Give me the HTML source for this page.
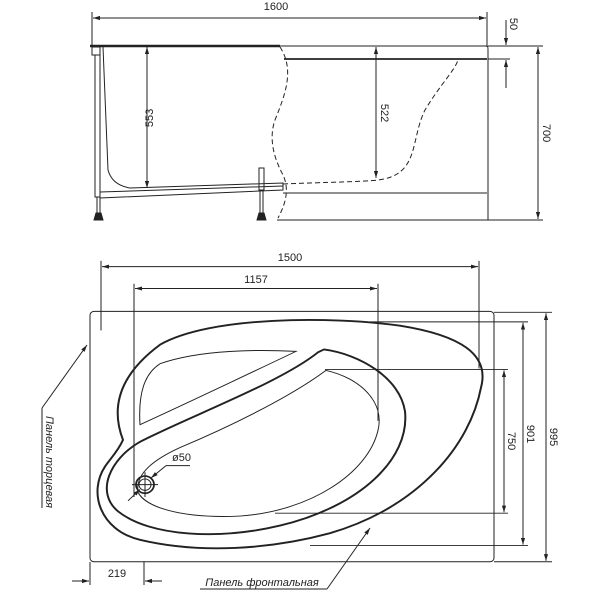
<!DOCTYPE html>
<html><head><meta charset="utf-8"><style>
html,body{margin:0;padding:0;background:#fff;}
svg{display:block;}
text{font-family:"Liberation Sans Narrow","Liberation Sans",sans-serif;font-size:11px;fill:#222;}
</style></head><body>
<svg width="600" height="600" viewBox="0 0 600 600" xmlns="http://www.w3.org/2000/svg">
<defs>
<marker id="a" viewBox="0 0 10 10" refX="10" refY="5" markerWidth="7" markerHeight="7" orient="auto-start-reverse"><path d="M0,2 L10,5 L0,8 z" fill="#222"/></marker>
</defs>
<g stroke="#222" fill="none" stroke-width="1">
<!-- TOP VIEW -->
<line x1="92" y1="12" x2="92" y2="47"/><line x1="487" y1="12" x2="487" y2="47"/>
<line x1="93" y1="18" x2="486" y2="18" marker-start="url(#a)" marker-end="url(#a)"/>
<line x1="90" y1="46" x2="280" y2="46" stroke-width="2.5"/>
<line x1="280" y1="46" x2="487" y2="46"/>
<line x1="284" y1="59" x2="487" y2="59" stroke-width="1.8"/>
<path d="M487,46 Q488,46 488,50 L488,220"/>
<line x1="283" y1="193" x2="487" y2="193"/>
<line x1="277" y1="220" x2="543" y2="220"/>
<line x1="488" y1="46" x2="543" y2="46"/>
<line x1="488" y1="59" x2="510" y2="59"/>
<line x1="506" y1="20" x2="506" y2="45" marker-end="url(#a)"/>
<line x1="506" y1="88" x2="506" y2="60" marker-end="url(#a)"/>
<line x1="538" y1="47" x2="538" y2="219" marker-start="url(#a)" marker-end="url(#a)"/>
<line x1="147" y1="47" x2="147" y2="188" marker-start="url(#a)" marker-end="url(#a)"/>
<line x1="376" y1="47" x2="376" y2="178" marker-start="url(#a)" marker-end="url(#a)"/>
<path d="M280,47 C295,70 285,95 275,120 C268,140 275,160 283,175 C290,190 285,205 278,218" stroke-dasharray="5,3"/>
<path d="M283,184 C330,182 360,182 378,180 C420,175 410,140 425,110 C440,85 455,70 458,60" stroke-dasharray="5,3"/>
<rect x="92" y="47" width="8" height="8"/>
<rect x="95" y="55" width="5" height="142"/>
<path d="M103,47 L108,170 Q112,185 130,188 L283,183 L283,190 L100,198"/>
<line x1="100" y1="192" x2="283" y2="186"/>
<rect x="259" y="168" width="5" height="22"/>
<line x1="97" y1="197" x2="97" y2="213"/><line x1="100" y1="197" x2="100" y2="213"/>
<path d="M94,220 L96,213 L101,213 L103,220 z" fill="#222"/>
<line x1="260" y1="190" x2="260" y2="213"/><line x1="263" y1="190" x2="263" y2="213"/>
<path d="M257,220 L259,213 L264,213 L266,220 z" fill="#222"/>

<!-- BOTTOM VIEW (vertically compressed) -->
<g transform="matrix(1,0,0,0.952,0,11.5)">
<rect x="90" y="315" width="404" height="263" rx="4"/>
<line x1="101" y1="262" x2="101" y2="335"/><line x1="479" y1="262" x2="479" y2="375"/>
<line x1="102" y1="268" x2="478" y2="268" marker-start="url(#a)" marker-end="url(#a)"/>
<line x1="134" y1="286" x2="134" y2="510"/><line x1="378" y1="286" x2="378" y2="430"/>
<line x1="135" y1="291" x2="377" y2="291" marker-start="url(#a)" marker-end="url(#a)"/>
<line x1="494" y1="316" x2="552" y2="316"/><line x1="494" y1="578" x2="552" y2="578"/>
<line x1="546" y1="317" x2="546" y2="577" marker-start="url(#a)" marker-end="url(#a)"/>
<line x1="370" y1="326" x2="528" y2="326"/><line x1="310" y1="561" x2="528" y2="561"/>
<line x1="523" y1="327" x2="523" y2="560" marker-start="url(#a)" marker-end="url(#a)"/>
<line x1="325" y1="376" x2="508" y2="376"/><line x1="275" y1="527" x2="508" y2="527"/>
<line x1="504" y1="377" x2="504" y2="526" marker-start="url(#a)" marker-end="url(#a)"/>
<path d="M123,450 C112,420 115,385 160,350 C210,320 330,320 400,330 C460,340 490,360 481,395 C470,455 420,520 330,548 C270,565 200,570 140,555 C100,545 88,505 105,478 C110,470 118,462 123,450 z" stroke-width="2"/>
<path d="M324,355 C360,360 400,385 405,420 C410,470 360,520 280,540 C220,555 150,552 118,525 C95,505 110,470 140,452 C190,425 280,390 318,358 z" stroke-width="2"/>
<path d="M326,377 C360,385 385,410 378,440 C368,485 310,525 240,530 C180,533 145,520 138,505 C135,485 155,470 180,458 C230,436 290,405 326,377 z"/>
<path d="M140,434 C138,400 145,380 160,370 C200,355 260,355 296,357 C250,380 190,410 140,434 z"/>
<circle cx="145" cy="497" r="9" stroke-width="1.8"/>
<circle cx="145" cy="497" r="6"/>
<line x1="132" y1="497" x2="158" y2="497"/><line x1="145" y1="484" x2="145" y2="510"/>
<line x1="128" y1="514" x2="140" y2="502" marker-end="url(#a)"/>
<line x1="166" y1="477" x2="151" y2="490" marker-end="url(#a)"/>
<line x1="166" y1="477" x2="190" y2="477"/>
</g>
<line x1="144" y1="562" x2="144" y2="585"/>
<line x1="90" y1="562" x2="90" y2="585"/>
<line x1="72" y1="581" x2="89" y2="581" marker-end="url(#a)"/>
<line x1="162" y1="581" x2="145" y2="581" marker-end="url(#a)"/>
<line x1="42" y1="408" x2="87" y2="345" marker-end="url(#a)"/>
<line x1="42" y1="408" x2="42" y2="508"/>
<line x1="200" y1="589" x2="327" y2="589"/>
<line x1="327" y1="589" x2="370" y2="528" marker-end="url(#a)"/>
</g>
<text x="276" y="10" text-anchor="middle">1600</text>
<text transform="translate(510,24) rotate(90)" text-anchor="middle">50</text>
<text transform="translate(543,133) rotate(90)" text-anchor="middle">700</text>
<text transform="translate(153,118) rotate(-90)" text-anchor="middle">553</text>
<text transform="translate(381,113) rotate(90)" text-anchor="middle">522</text>
<text x="290" y="261" text-anchor="middle">1500</text>
<text x="256" y="283" text-anchor="middle">1157</text>
<text transform="translate(550,437) rotate(90)" text-anchor="middle">995</text>
<text transform="translate(527,434) rotate(90)" text-anchor="middle">901</text>
<text transform="translate(508,441) rotate(90)" text-anchor="middle">750</text>
<text x="117" y="577" text-anchor="middle">219</text>
<text x="172" y="461">ø50</text>
<text transform="translate(46,462) rotate(90)" text-anchor="middle" font-style="italic" font-size="10">Панель торцевая</text>
<text x="262" y="586" text-anchor="middle" font-style="italic" font-size="10">Панель фронтальная</text>
</svg>
</body></html>
